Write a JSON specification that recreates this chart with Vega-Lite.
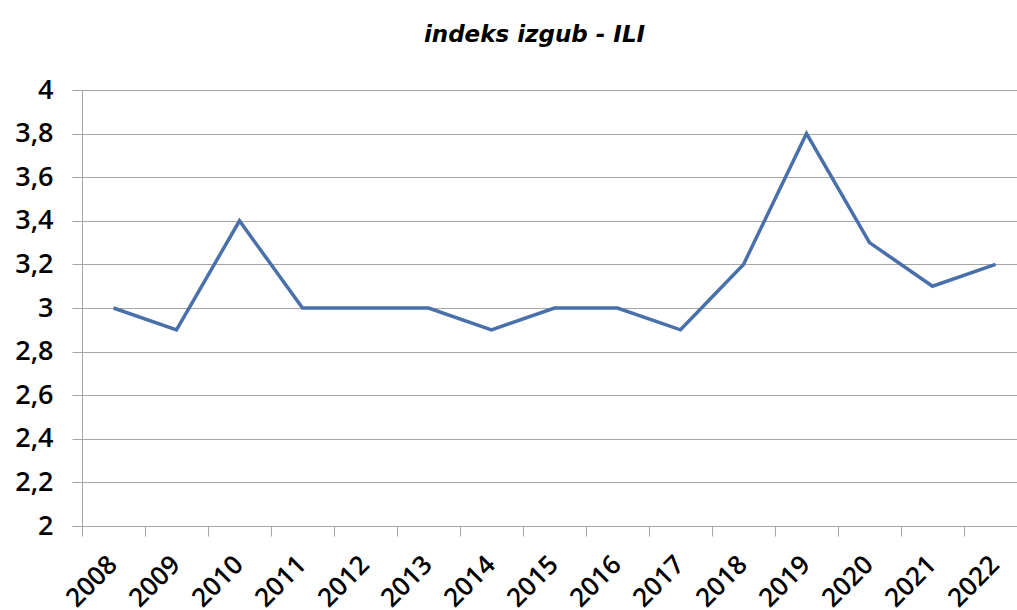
{
  "$schema": "https://vega.github.io/schema/vega-lite/v6.json",
  "width": 945,
  "height": 436,
  "autosize": {"type": "none"},
  "padding": {"left": 82, "top": 90, "right": 0, "bottom": 84},
  "background": "white",
  "title": {
    "text": "indeks izgub - ILI",
    "font": "DejaVu Sans",
    "fontSize": 23,
    "fontWeight": "bold",
    "fontStyle": "italic",
    "color": "black",
    "anchor": "middle",
    "frame": "group",
    "dx": -20,
    "offset": 29
  },
  "data": {
    "values": [
      {"leto": "2008", "indeks": 3.0},
      {"leto": "2009", "indeks": 2.9},
      {"leto": "2010", "indeks": 3.4},
      {"leto": "2011", "indeks": 3.0},
      {"leto": "2012", "indeks": 3.0},
      {"leto": "2013", "indeks": 3.0},
      {"leto": "2014", "indeks": 2.9},
      {"leto": "2015", "indeks": 3.0},
      {"leto": "2016", "indeks": 3.0},
      {"leto": "2017", "indeks": 2.9},
      {"leto": "2018", "indeks": 3.2},
      {"leto": "2019", "indeks": 3.8},
      {"leto": "2020", "indeks": 3.3},
      {"leto": "2021", "indeks": 3.1},
      {"leto": "2022", "indeks": 3.2}
    ]
  },
  "mark": {"type": "line", "color": "#4a70aa", "strokeWidth": 3.5},
  "encoding": {
    "x": {
      "field": "leto",
      "type": "ordinal",
      "scale": {"type": "band", "paddingInner": 0, "paddingOuter": 0},
      "axis": {
        "title": null,
        "tickBand": "extent",
        "tickSize": 10,
        "tickColor": "#a6a6a6",
        "domainColor": "#a6a6a6",
        "grid": false,
        "labelAngle": -45,
        "labelFont": "Open Sans",
        "labelFontSize": 26,
        "labelFontWeight": 600,
        "labelColor": "black",
        "labelPadding": 15,
        "labelOffset": -10
      }
    },
    "y": {
      "field": "indeks",
      "type": "quantitative",
      "scale": {"domain": [2, 4], "zero": false},
      "axis": {
        "title": null,
        "values": [2, 2.2, 2.4, 2.6, 2.8, 3, 3.2, 3.4, 3.6, 3.8, 4],
        "labelExpr": "replace(format(datum.value, '.1~f'), '.', ',')",
        "tickSize": 10,
        "tickColor": "#a6a6a6",
        "domainColor": "#a6a6a6",
        "gridColor": "#a6a6a6",
        "grid": true,
        "labelFont": "Open Sans",
        "labelFontSize": 27,
        "labelFontWeight": 600,
        "labelColor": "black",
        "labelPadding": 19
      }
    }
  },
  "config": {"view": {"stroke": null}}
}
